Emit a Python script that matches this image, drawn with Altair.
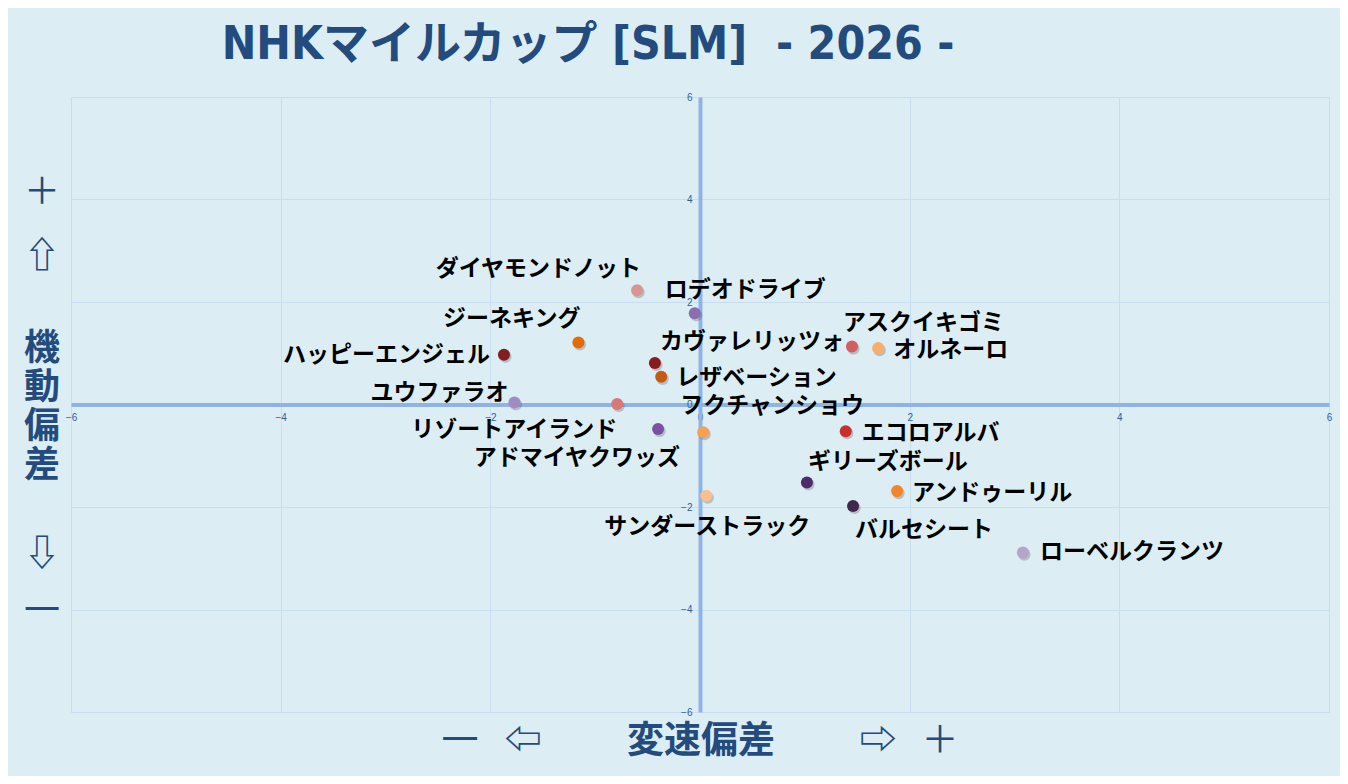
import altair as alt
import pandas as pd

# ---- data ----
names = ["ダイヤモンドノット", "ロデオドライブ", "ジーネキング", "ハッピーエンジェル",
         "カヴァレリッツォ", "レザベーション", "ユウファラオ", "リゾートアイランド",
         "アドマイヤクワッズ", "フクチャンショウ", "アスクイキゴミ", "オルネーロ",
         "エコロアルバ", "ギリーズボール", "アンドゥーリル", "バルセシート",
         "サンダーストラック", "ローベルクランツ"]
speed_dev = [-0.60, -0.05, -1.16, -1.87, -0.43, -0.37, -1.77, -0.79, -0.40,
             0.03, 1.45, 1.70, 1.39, 1.02, 1.88, 1.46, 0.06, 3.08]
mobility_dev = [2.23, 1.78, 1.21, 0.97, 0.81, 0.54, 0.04, 0.01, -0.48,
                -0.54, 1.13, 1.10, -0.52, -1.52, -1.69, -1.98, -1.78, -2.89]
dot_colors = ["#D99594", "#8E6CB0", "#E36C0A", "#7F1F1F", "#8B1A1A", "#C55A11",
              "#A08BC2", "#DA7777", "#7B4FA3", "#F5A153", "#D25F5F", "#F7AE6A",
              "#C9302C", "#4E2C6C", "#F48425", "#40294F", "#F8C08F", "#B9A3CB"]
tick_values = [-6, -4, -2, 0, 2, 4, 6]

# label placement (style): align, dx, dy relative to each dot
label_style = {
    "ダイヤモンドノット": ("right", 4, -21),
    "ロデオドライブ": ("left", -30, -23),
    "ジーネキング": ("right", 2, -23),
    "ハッピーエンジェル": ("right", -14, 0),
    "カヴァレリッツォ": ("left", 5, -21),
    "レザベーション": ("left", 15, 1),
    "ユウファラオ": ("right", -6, -9),
    "リゾートアイランド": ("right", 0, 26),
    "アドマイヤクワッズ": ("right", 22, 29),
    "フクチャンショウ": ("left", -23, -26),
    "アスクイキゴミ": ("left", -9, -24),
    "オルネーロ": ("left", 15, 2),
    "エコロアルバ": ("left", 16, 2),
    "ギリーズボール": ("left", 1, -20),
    "アンドゥーリル": ("left", 15, 2),
    "バルセシート": ("left", 2, 24),
    "サンダーストラック": ("center", 1, 31),
    "ローベルクランツ": ("left", 17, -1),
}

df = pd.DataFrame({"name": names, "x": speed_dev, "y": mobility_dev, "color": dot_colors})

W, H = 1258, 615
BG = "#DCEEF4"
NAVY = "#234B7D"
GRID = "#C8DDF0"
ZERO = "#8EB4E3"
JP = "Noto Sans CJK JP"

xscale = alt.Scale(domain=[-6, 6], nice=False, zero=False)
yscale = alt.Scale(domain=[-6, 6], nice=False, zero=False)

x_axis = alt.Axis(values=tick_values, orient="bottom", offset=-H / 2, grid=True,
                  gridColor=GRID, gridWidth=1, domain=True, domainColor=ZERO,
                  domainWidth=4, ticks=False, labelFontSize=10, labelColor="#2E5F9A",
                  labelFont="Liberation Sans", labelPadding=8, labelFlush=False,
                  labelOverlap=False, title=None)
y_axis = alt.Axis(values=tick_values, orient="left", offset=-W / 2, grid=True,
                  gridColor=GRID, gridWidth=1, domain=True, domainColor=ZERO,
                  domainWidth=4, ticks=False, labelFontSize=10, labelColor="#2E5F9A",
                  labelFont="Liberation Sans", labelPadding=8, labelFlush=False,
                  labelOverlap=False, title=None)

X = alt.X("x:Q", scale=xscale, axis=x_axis)
Y = alt.Y("y:Q", scale=yscale, axis=y_axis)

base = alt.Chart(df)

shadow = base.mark_circle(size=150, color="#555555", opacity=0.3,
                          xOffset=1.5, yOffset=2).encode(x=X, y=Y)
dots = base.mark_circle(size=145, opacity=1).encode(
    x=X, y=Y, color=alt.Color("color:N", scale=None))

layers = [shadow, dots]
for n in names:
    align, dx, dy = label_style[n]
    layers.append(
        base.transform_filter(alt.datum.name == n).mark_text(
            align=align, baseline="middle", dx=dx, dy=dy, fontSize=23,
            fontWeight="bold", font=JP, color="#000000"
        ).encode(x=X, y=Y, text="name:N")
    )

one = alt.Data(values=[{}])


def note(text, x, y, size, font=JP, weight="bold"):
    return alt.Chart(one).mark_text(
        text=text, align="center", baseline="middle", fontSize=size,
        fontWeight=weight, font=font, color=NAVY
    ).encode(x=alt.value(x), y=alt.value(y))


# title
layers.append(note("NHKマイルカップ [SLM] \u00a0- 2026 -", 517, -52, 46,
                   font="Liberation Sans Narrow, DejaVu Sans Condensed, Noto Sans CJK JP"))
# vertical axis caption
for ch, yy, wt in [("＋", 96, "normal"), ("⇧", 160, "bold"), ("機", 252, "bold"),
                   ("動", 291, "bold"), ("偏", 330, "bold"), ("差", 369, "bold"),
                   ("⇩", 458, "bold"), ("一", 515, "normal")]:
    layers.append(note(ch, -29, yy, 36, weight=wt))
# horizontal axis caption
for t, xx, wt in [("一", 389, "normal"), ("⇦", 452, "bold"), ("変速偏差", 630, "bold"),
                  ("⇨", 807, "bold"), ("＋", 869, "normal")]:
    layers.append(note(t, xx, 645, 37, weight=wt))

chart = alt.layer(*layers).properties(
    width=W, height=H, background=BG,
    padding={"left": 63, "top": 89, "right": 11, "bottom": 64},
    autosize=alt.AutoSizeParams(type="none"),
).configure_view(stroke=None)

chart.save("out.html", embed_options={"renderer": "svg", "actions": False})
